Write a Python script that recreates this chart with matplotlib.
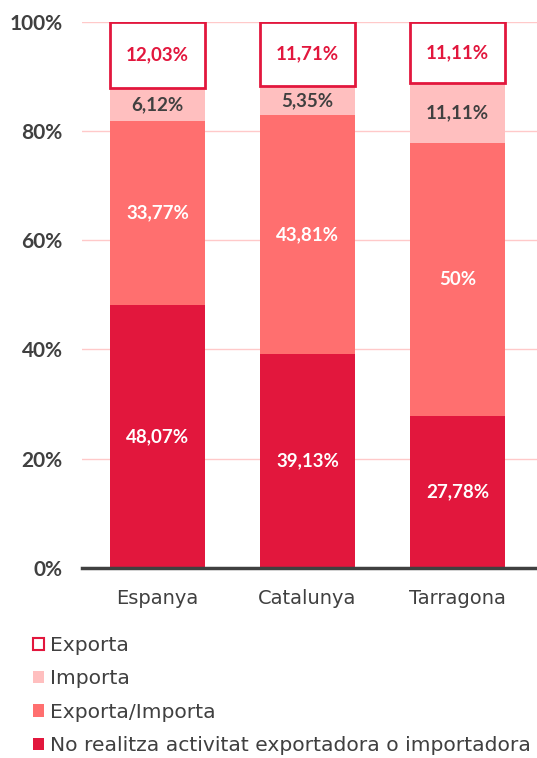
import matplotlib
matplotlib.use("Agg")
import matplotlib.pyplot as plt
from matplotlib.patches import Patch
from matplotlib.ticker import FuncFormatter

plt.rcParams['font.family'] = ['DejaVu Sans']

# dades
regions = ["Espanya", "Catalunya", "Tarragona"]
no_activitat = [48.07, 39.13, 27.78]
exp_imp = [33.77, 43.81, 50.0]
importa = [6.12, 5.35, 11.11]
exporta = [12.03, 11.71, 11.11]

labels_no = ["48,07%", "39,13%", "27,78%"]
labels_ei = ["33,77%", "43,81%", "50%"]
labels_imp = ["6,12%", "5,35%", "11,11%"]
labels_exp = ["12,03%", "11,71%", "11,11%"]

c_dark = "#E2173D"
c_salmon = "#FF6F6F"
c_pink = "#FFBFBF"
c_grid = "#FFC9C9"
c_text = "#404040"

fig = plt.figure(figsize=(5.37, 7.58), dpi=100)
ax = fig.add_axes([0.153, 0.251, 0.847, 0.72])

x = list(range(len(regions)))
w = 0.633
b1 = [0] * 3
b2 = [a for a in no_activitat]
b3 = [a + b for a, b in zip(no_activitat, exp_imp)]
b4 = [a + b + c for a, b, c in zip(no_activitat, exp_imp, importa)]

ax.bar(x, no_activitat, w, bottom=b1, color=c_dark, zorder=3)
ax.bar(x, exp_imp, w, bottom=b2, color=c_salmon, zorder=3)
ax.bar(x, importa, w, bottom=b3, color=c_pink, zorder=3)
ax.bar(x, exporta, w, bottom=b4, color="white", edgecolor=c_dark, linewidth=2, zorder=3)

lbl = dict(ha="center", va="center", fontsize=13.5, fontweight="bold",
           family=["Lato", "DejaVu Sans"], zorder=4)
for i in x:
    ax.text(i, b1[i] + no_activitat[i] / 2, labels_no[i], color="white", **lbl)
    ax.text(i, b2[i] + exp_imp[i] / 2, labels_ei[i], color="white", **lbl)
    ax.text(i, b3[i] + importa[i] / 2, labels_imp[i], color=c_text, **lbl)
    ax.text(i, b4[i] + exporta[i] / 2, labels_exp[i], color=c_dark, **lbl)

ax.set_xlim(-0.503, 2.53)
ax.set_ylim(0, 100)
ax.set_yticks([0, 20, 40, 60, 80, 100])
ax.yaxis.set_major_formatter(FuncFormatter(lambda v, p: "%d%%" % v))
ax.set_xticks(x)
ax.set_xticklabels(regions)
ax.tick_params(axis="both", length=0, colors=c_text)
ax.tick_params(axis="x", pad=15, labelsize=14)
ax.tick_params(axis="y", pad=14)
for lab in ax.get_yticklabels():
    lab.set_family(["Lato", "DejaVu Sans"])
    lab.set_fontsize(15)
    lab.set_fontweight("bold")

ax.grid(axis="y", color=c_grid, linewidth=1, zorder=0)
for s in ["top", "right", "left"]:
    ax.spines[s].set_visible(False)
ax.spines["bottom"].set_color(c_text)
ax.spines["bottom"].set_linewidth(2.5)
ax.spines["bottom"].set_zorder(5)

handles = [
    Patch(facecolor="white", edgecolor=c_dark, linewidth=1.5, label="Exporta"),
    Patch(facecolor=c_pink, label="Importa"),
    Patch(facecolor=c_salmon, label="Exporta/Importa"),
    Patch(facecolor=c_dark, label="No realitza activitat exportadora o importadora"),
]
leg = fig.legend(handles=handles, loc="upper left", bbox_to_anchor=(0.062, 0.161),
                 frameon=False, fontsize=14.6, handlelength=0.55, handleheight=0.55,
                 handletextpad=0.25, labelspacing=0.71, borderaxespad=0, borderpad=0)
for t in leg.get_texts():
    t.set_color(c_text)

fig.savefig("out.png", dpi=100)
